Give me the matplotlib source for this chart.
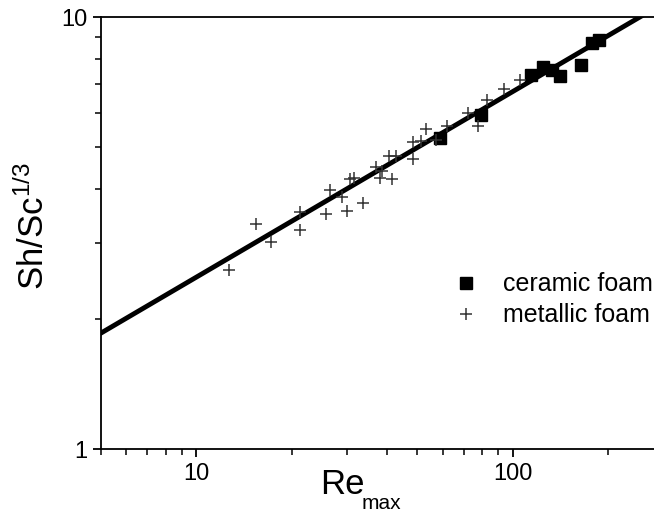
import numpy as np
import matplotlib
matplotlib.use("Agg")
import matplotlib.pyplot as plt
from matplotlib.ticker import LogLocator, NullFormatter, FixedLocator, FixedFormatter

plt.rcParams['font.family'] = ['Liberation Sans', 'DejaVu Sans']
plt.rcParams['mathtext.fontset'] = 'custom'
plt.rcParams['mathtext.rm'] = 'Liberation Sans'
plt.rcParams['mathtext.it'] = 'Liberation Sans'

# ceramic foam (squares)
ceramic_re = [58.9, 79.4, 114.3, 124.7, 133.1, 141.1, 164.3, 178.0, 187.3]
ceramic_sh = [5.25, 5.93, 7.34, 7.66, 7.54, 7.30, 7.73, 8.71, 8.85]

# metallic foam (crosses)
metallic_re = [12.66, 15.47, 17.25, 21.20, 21.30, 25.70, 26.36, 28.97, 29.91,
               30.64, 31.54, 33.60, 37.02, 38.11, 38.58, 40.77, 42.80, 41.67,
               48.55, 48.55, 51.22, 53.23, 57.25, 61.89, 72.40, 77.90, 83.15,
               93.87, 105.5]
metallic_sh = [2.60, 3.32, 3.02, 3.53, 3.21, 3.50, 3.97, 3.84, 3.56,
               4.22, 4.23, 3.72, 4.50, 4.23, 4.39, 4.77, 4.77, 4.22,
               4.68, 5.14, 5.17, 5.50, 5.19, 5.59, 5.99, 5.59, 6.43,
               6.80, 7.15]

# correlation line Sh/Sc^(1/3) = a * Re^b
fit_a = 0.929
fit_b = 0.4297
fit_re_range = [5, 300]

fig = plt.figure(figsize=(6.54, 5.17), dpi=100)
ax = fig.add_axes([101/654, 68/517, 553/654, 432/517])

re_line = np.logspace(np.log10(fit_re_range[0]), np.log10(fit_re_range[1]), 200)
ax.plot(re_line, fit_a * re_line**fit_b, color='black', lw=3.5, zorder=2)

ax.plot(ceramic_re, ceramic_sh, ls='none', marker='s', ms=9, color='black',
        label='ceramic foam', zorder=3)
ax.plot(metallic_re, metallic_sh, ls='none', marker='+', ms=8, mew=1.1,
        color='#333333', label='metallic foam', zorder=3)

ax.set_xscale('log')
ax.set_yscale('log')
ax.set_xlim(5, 279.4)
ax.set_ylim(1, 10)

ax.spines['right'].set_visible(False)
for s in ['left', 'bottom', 'top']:
    ax.spines[s].set_linewidth(1.3)

ax.xaxis.set_major_locator(FixedLocator([10, 100]))
ax.xaxis.set_major_formatter(FixedFormatter(['10', '100']))
ax.xaxis.set_minor_locator(LogLocator(base=10, subs=np.arange(2, 10)))
ax.xaxis.set_minor_formatter(NullFormatter())
ax.yaxis.set_major_locator(FixedLocator([1, 10]))
ax.yaxis.set_major_formatter(FixedFormatter(['1', '10']))
ax.yaxis.set_minor_locator(LogLocator(base=10, subs=np.arange(2, 10)))
ax.yaxis.set_minor_formatter(NullFormatter())

ax.tick_params(which='major', direction='out', length=6, width=1.3,
               labelsize=17, top=False, right=False, pad=4)
ax.tick_params(which='minor', direction='out', length=4, width=1.1,
               top=False, right=False)

# x label: "Re" with subscript "max"
fig.text(320/654, (517-494)/517, 'Re', fontsize=25, ha='left', va='baseline')
fig.text(362/654, (517-509)/517, 'max', fontsize=15, ha='left', va='baseline')

ax.set_ylabel(r'$\mathregular{Sh/Sc^{1/3}}$', fontsize=25)
ax.yaxis.set_label_coords(-0.09, 0.515)

leg = ax.legend(loc='upper left', bbox_to_anchor=(0.62, 0.432), frameon=False,
                fontsize=18, handletextpad=0.95, labelspacing=0.28,
                handlelength=1.0, borderaxespad=0)

fig.savefig('out.png', dpi=100)
